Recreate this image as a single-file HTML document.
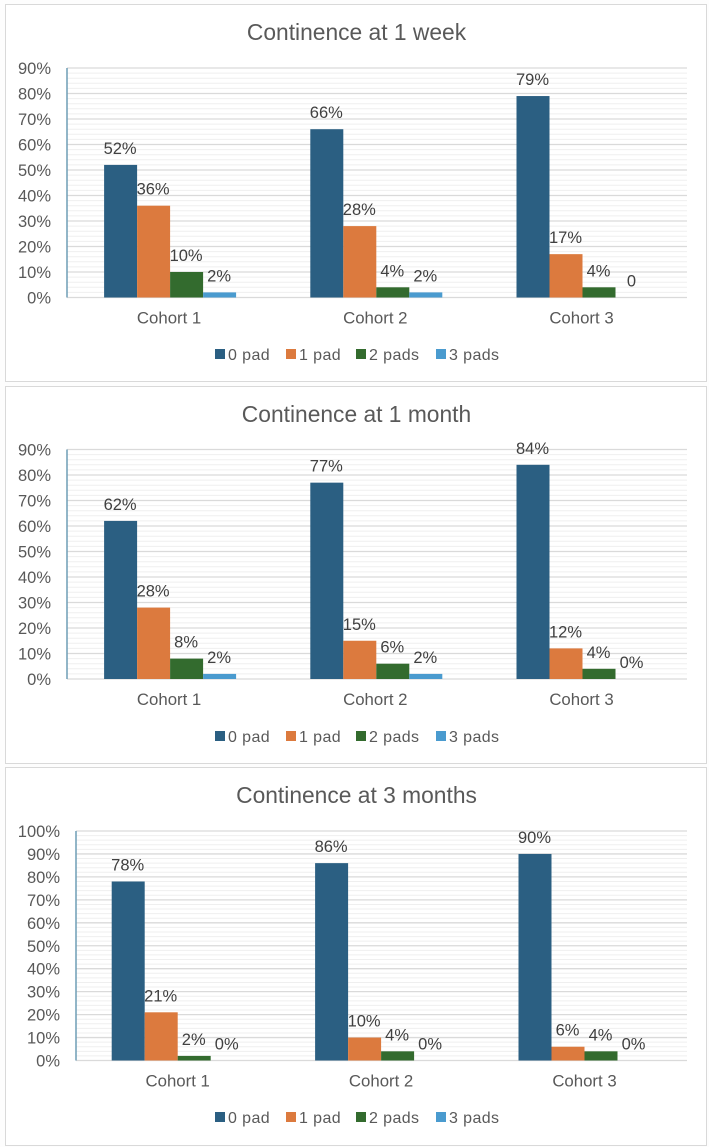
<!DOCTYPE html>
<html lang="en">
<head>
<meta charset="utf-8">
<title>Continence charts</title>
<style>
html,body{margin:0;padding:0;background:#fdfdfd;}
svg{display:block;font-family:"Liberation Sans",sans-serif;filter:blur(0.35px);}
</style>
</head>
<body>
<svg id="figure" xmlns="http://www.w3.org/2000/svg" width="709" height="1147" viewBox="0 0 709 1147"></svg>
<script>
const categories = ['Cohort 1', 'Cohort 2', 'Cohort 3'];
const seriesNames = ['0 pad', '1 pad', '2 pads', '3 pads'];

const week1Pad0 = [52, 66, 79];
const week1Pad1 = [36, 28, 17];
const week1Pad2 = [10, 4, 4];
const week1Pad3 = [2, 2, 0];
const week1Printed = [['52%', '66%', '79%'], ['36%', '28%', '17%'], ['10%', '4%', '4%'], ['2%', '2%', '0']];
const week1Ticks = [0, 10, 20, 30, 40, 50, 60, 70, 80, 90];

const month1Pad0 = [62, 77, 84];
const month1Pad1 = [28, 15, 12];
const month1Pad2 = [8, 6, 4];
const month1Pad3 = [2, 2, 0];
const month1Printed = [['62%', '77%', '84%'], ['28%', '15%', '12%'], ['8%', '6%', '4%'], ['2%', '2%', '0%']];
const month1Ticks = [0, 10, 20, 30, 40, 50, 60, 70, 80, 90];

const month3Pad0 = [78, 86, 90];
const month3Pad1 = [21, 10, 6];
const month3Pad2 = [2, 4, 4];
const month3Pad3 = [0, 0, 0];
const month3Printed = [['78%', '86%', '90%'], ['21%', '10%', '6%'], ['2%', '4%', '4%'], ['0%', '0%', '0%']];
const month3Ticks = [0, 10, 20, 30, 40, 50, 60, 70, 80, 90, 100];

const chartTitles = ['Continence at 1 week', 'Continence at 1 month', 'Continence at 3 months'];
const seriesColors = ['#2b5f82', '#dc7a3e', '#336b2e', '#4a9bcf'];

const svg = document.getElementById('figure');
const NS = 'http://www.w3.org/2000/svg';

function make(tag, attrs, text) {
  const el = document.createElementNS(NS, tag);
  for (const k in attrs) el.setAttribute(k, attrs[k]);
  if (text !== undefined) el.textContent = text;
  svg.appendChild(el);
  return el;
}

function drawChart(cfg) {
  const yOf = v => cfg.bottom - (v / cfg.max) * (cfg.bottom - cfg.top);
  const groupW = cfg.groupW;
  const barW = 33;
  const xOf = (c, s) => cfg.left + groupW * c + (groupW - barW * seriesNames.length) / 2 + barW * s;

  const panel = make('rect', {x: 5.5, y: cfg.panelTop + 0.5, width: 701, height: cfg.panelH, fill: '#fff', stroke: '#d9d9d9', 'stroke-width': 1});
  
  

  const title = make('text', {x: 356.5, y: cfg.panelTop + 36, 'text-anchor': 'middle', 'font-size': 22.8, fill: '#595959'}, cfg.title);
  
  

  for (let v = 0; v <= cfg.max; v += 2) {
    const major = v % 10 === 0;
    const g = make('line', {x1: cfg.left, x2: cfg.right, y1: yOf(v), y2: yOf(v), stroke: major ? '#dadada' : '#efefef', 'stroke-width': major ? 1.3 : 1});
    
    
  }

  cfg.ticks.forEach(t => {
    const label = make('text', {x: cfg.left - 16, y: yOf(t) + 6, 'text-anchor': 'end', 'font-size': 16.5, fill: '#595959'}, t + '%');
    
    
  });

  const axis = make('line', {x1: cfg.left, x2: cfg.left, y1: cfg.top, y2: cfg.bottom, stroke: '#6f9db5', 'stroke-width': 1.5});
  
  

  cfg.series.forEach((values, s) => {
    values.forEach((v, c) => {
      const x = xOf(c, s);
      if (v > 0) {
        const bar = make('rect', {x: x, y: yOf(v), width: barW, height: cfg.bottom - yOf(v), fill: seriesColors[s]});
        
        
      }
      const val = make('text', {x: x + barW / 2 - 0.5, y: yOf(v) - 11, 'text-anchor': 'middle', 'font-size': 16.5, fill: '#404040'}, cfg.printed[s][c]);
      
      
    });
  });

  categories.forEach((name, c) => {
    const label = make('text', {x: cfg.left + groupW * (c + 0.5) + cfg.labelShift, y: cfg.bottom + 26, 'text-anchor': 'middle', 'font-size': 16.8, fill: '#595959'}, name);
    
    
  });

  const legendX = [215, 286, 356, 436];
  const legendY = cfg.panelTop + 350;
  seriesNames.forEach((name, s) => {
    const swatch = make('rect', {x: legendX[s], y: legendY - 5, width: 10, height: 10, fill: seriesColors[s]});
    
    
    const label = make('text', {x: legendX[s] + 13, y: legendY + 6, 'font-size': 16, 'letter-spacing': 0.4, fill: '#595959'}, name);
    
    
  });
}

drawChart({title: chartTitles[0], panelTop: 4, panelH: 377, left: 67, right: 687, groupW: 206.2, labelShift: -1, top: 68, bottom: 297.5, max: 90,
  ticks: week1Ticks, printed: week1Printed, series: [week1Pad0, week1Pad1, week1Pad2, week1Pad3]});
drawChart({title: chartTitles[1], panelTop: 386, panelH: 377, left: 67, right: 687, groupW: 206.2, labelShift: -1, top: 449.5, bottom: 679, max: 90,
  ticks: month1Ticks, printed: month1Printed, series: [month1Pad0, month1Pad1, month1Pad2, month1Pad3]});
drawChart({title: chartTitles[2], panelTop: 767, panelH: 378, left: 76, right: 687, groupW: 203.4, labelShift: 0, top: 831, bottom: 1060.5, max: 100,
  ticks: month3Ticks, printed: month3Printed, series: [month3Pad0, month3Pad1, month3Pad2, month3Pad3]});
</script>
</body>
</html>
